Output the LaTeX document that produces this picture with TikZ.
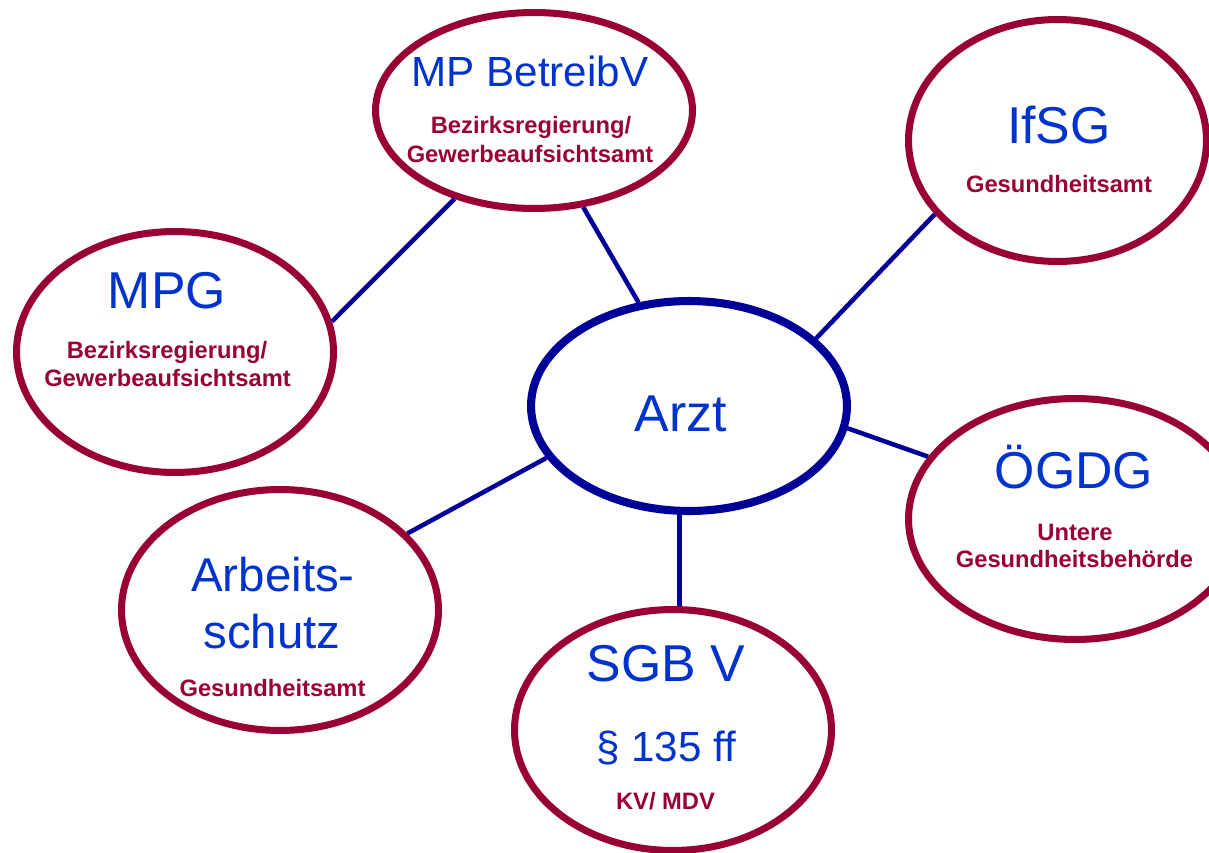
\documentclass[tikz,border=0pt]{standalone}
\usepackage{fontspec}
\setmainfont{Liberation Sans}
\usetikzlibrary{shapes.geometric}

\definecolor{lawred}{HTML}{990033}
\definecolor{lawblue}{HTML}{0033CC}
\definecolor{linkblue}{HTML}{000099}

\begin{document}
\begin{tikzpicture}[
  x=0.02cm, y=-0.02cm,
  law/.style={ellipse, draw=lawred, line width=4pt, inner sep=0pt,
              minimum width=6.34cm, minimum height=4.82cm},
  hub/.style={law, draw=linkblue, line width=4.6pt,
              minimum width=6.32cm, minimum height=4.2cm},
  lawtitle/.style={text=lawblue, font=\fontsize{29.5}{35}\selectfont,
              anchor=base, inner sep=0pt},
  office/.style={text=lawred, font=\bfseries\fontsize{13.5}{16}\selectfont,
              anchor=base, inner sep=0pt},
  link/.style={draw=linkblue, line width=2.6pt}
]
\useasboundingbox (0,0) rectangle (1209,852);
\clip (0,0) rectangle (1209,852);

\node[hub] (arzt) at (689,406) {};
\node[law, minimum height=3.92cm] (mpb) at (534,110.5) {};
\node[law, minimum width=5.96cm, minimum height=4.84cm] (ifsg) at (1057.5,140.5) {};
\node[law] (mpg) at (175,352) {};
\node[law, minimum width=6.66cm] (oegdg) at (1075,519) {};
\node[law] (arbs) at (280,610) {};
\node[law] (sgb) at (673,730) {};

% texts
\node[lawtitle] (arzt-t) at (681,431) {Arzt};
\node[lawtitle, font=\fontsize{24}{29}\selectfont] (mpb-t) at (530,86) {MP BetreibV};
\node[office] (mpb-o1) at (531,133) {Bezirksregierung/};
\node[office] (mpb-o2) at (530,162) {Gewerbeaufsichtsamt};
\node[lawtitle] (ifsg-t) at (1059,143) {IfSG};
\node[office] (ifsg-o) at (1059,192) {Gesundheitsamt};
\node[lawtitle] (mpg-t) at (167,308) {MPG};
\node[office] (mpg-o1) at (167,358) {Bezirksregierung/};
\node[office] (mpg-o2) at (167.5,386) {Gewerbeaufsichtsamt};
\node[lawtitle] (oegdg-t) at (1074,488) {ÖGDG};
\node[office] (oegdg-o1) at (1075,540) {Untere};
\node[office] (oegdg-o2) at (1074.5,567) {Gesundheitsbehörde};
\node[lawtitle, font=\fontsize{27}{32}\selectfont] (arbs-t1) at (273,591) {Arbeits-};
\node[lawtitle, font=\fontsize{27}{32}\selectfont] (arbs-t2) at (272,648) {schutz};
\node[office] (arbs-o) at (272.5,696) {Gesundheitsamt};
\node[lawtitle] (sgb-t) at (666,681) {SGB V};
\node[lawtitle, font=\fontsize{24}{29}\selectfont] (sgb-p) at (666,761) {§ 135 ff};
\node[office] (sgb-o) at (665.5,809) {KV/ MDV};

% connectors
\draw[link] (mpb.228) -- (mpg.11);
\draw[link] (mpb.297) -- (arzt.116);
\draw[link] (ifsg.211) -- (arzt.28);
\draw[link] (arzt.352.5) -- (oegdg.157);
\draw[link] (arzt.200) -- (arbs.31.5);
\draw[link] (arzt.265) -- (sgb.87);
\end{tikzpicture}
\end{document}
